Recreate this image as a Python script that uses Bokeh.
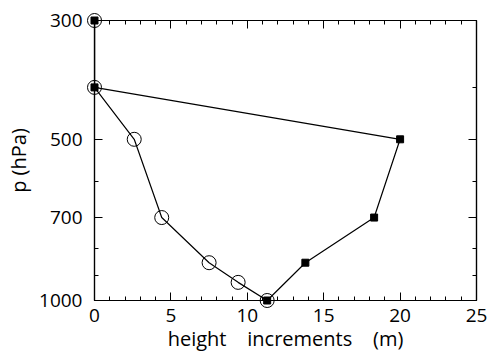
from bokeh.plotting import figure
from bokeh.models import (Range1d, FixedTicker, LinearAxis, LogAxis,
                          PrintfTickFormatter, ColumnDataSource)
from bokeh.embed import file_html
from bokeh.resources import INLINE

# Pressure levels (hPa) and height increments (m) for the two profiles
p_circle = [300, 400, 500, 700, 850, 925, 1000]
dz_circle = [0.0, 0.0, 2.6, 4.4, 7.5, 9.4, 11.3]

p_square = [300, 400, 500, 700, 850, 1000]
dz_square = [0.0, 0.0, 20.0, 18.3, 13.8, 11.3]

x_ticks = [0, 5, 10, 15, 20, 25]
x_minor = [v for v in range(0, 26) if v % 5 != 0]
y_ticks = [300, 500, 700, 1000]
y_minor = [400, 600, 800, 900]

FONT = "Open Sans"
NB = "\u00a0"
X_TITLE = f"height{NB*4}increments{NB*4}(m)"
Y_TITLE = "p (hPa)"

p = figure(width=489, height=354, output_backend="svg", toolbar_location=None,
           y_axis_type="log",
           x_range=Range1d(0, 25), y_range=Range1d(1000, 300),
           min_border_left=94, min_border_right=13,
           min_border_top=20, min_border_bottom=54)
p.grid.visible = False
p.outline_line_color = "black"
p.outline_line_width = 1.2
p.background_fill_color = "white"
p.border_fill_color = "white"

circ = ColumnDataSource(dict(x=dz_circle, y=p_circle))
sq = ColumnDataSource(dict(x=dz_square, y=p_square))

p.line("x", "y", source=sq, line_color="black", line_width=1.2)
p.line("x", "y", source=circ, line_color="black", line_width=1.2)
# markers drawn on the overlay level so the ones sitting on the frame edge stay whole
p.scatter("x", "y", source=circ, marker="circle", size=14,
          fill_alpha=0.0, line_color="black", line_width=1, level="overlay")
p.scatter("x", "y", source=sq, marker="square", size=7,
          fill_color="black", line_color="black", level="overlay")


def style_axis(ax, ticks, minor, labels=True):
    ax.ticker = FixedTicker(ticks=ticks, minor_ticks=minor)
    ax.major_tick_in = 8
    ax.major_tick_out = 0
    ax.minor_tick_in = 4
    ax.minor_tick_out = 0
    ax.axis_line_color = "black"
    ax.axis_line_width = 1.2
    ax.major_tick_line_color = "black"
    ax.minor_tick_line_color = "black"
    ax.major_label_text_font = FONT
    ax.major_label_text_font_size = "19px"
    ax.major_label_text_font_style = "normal"
    ax.major_label_text_color = "black"
    ax.axis_label_text_font = FONT
    ax.axis_label_text_font_size = "20px"
    ax.axis_label_text_font_style = "normal"
    ax.axis_label_text_color = "black"
    if not labels:
        ax.major_label_text_font_size = "0px"
        ax.major_label_text_color = None


xa = p.xaxis[0]
style_axis(xa, x_ticks, x_minor)
xa.major_label_standoff = 8
xa.axis_label = X_TITLE
xa.axis_label_standoff = 0

ya = p.yaxis[0]
style_axis(ya, y_ticks, y_minor)
ya.formatter = PrintfTickFormatter(format="%d")
ya.major_label_standoff = 12
ya.axis_label = Y_TITLE
ya.axis_label_standoff = 4

top = LinearAxis()
style_axis(top, x_ticks, x_minor, labels=False)
p.add_layout(top, "above")

right = LogAxis()
style_axis(right, y_ticks, y_minor, labels=False)
p.add_layout(right, "right")

open("out.html", "w").write(file_html(p, INLINE))
